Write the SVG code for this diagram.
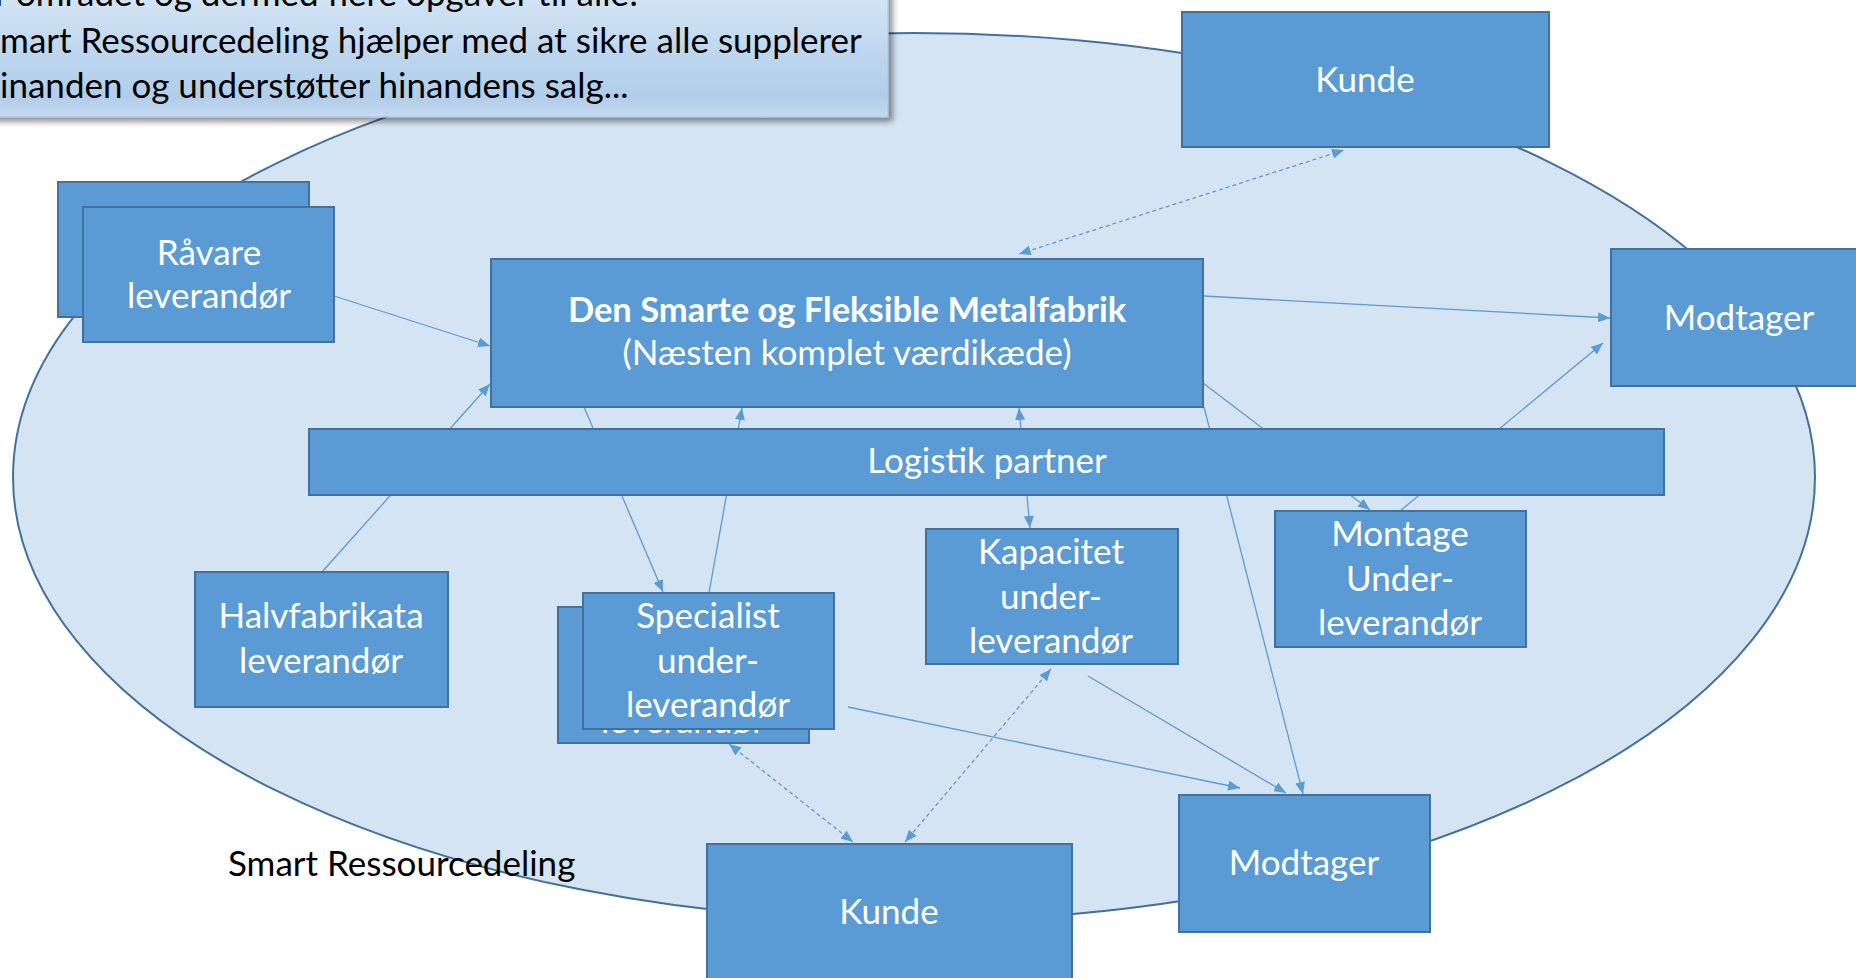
<svg xmlns="http://www.w3.org/2000/svg" width="1856" height="978" viewBox="0 0 1856 978">
<style>
.box{fill:#5B9BD5;stroke:#41719C;stroke-width:2}
.t{font-family:Lato,"Open Sans",sans-serif;font-size:35px;fill:#FFFFFF;text-anchor:middle}
.tb{font-weight:bold;font-size:34.5px}
.k{font-family:Lato,"Open Sans",sans-serif;fill:#000000}
.c{fill:none;stroke:#5B9BD5;stroke-width:1.3}
.d{stroke-dasharray:4 3}
</style>
<defs>
<marker id="ah" markerUnits="userSpaceOnUse" markerWidth="12" markerHeight="10" refX="12" refY="5" orient="auto-start-reverse">
<path d="M0,0 L12,5 L0,10 z" fill="#5B9BD5"/>
</marker>
<linearGradient id="cg" x1="0" y1="0" x2="0" y2="1">
<stop offset="0" stop-color="#DAE8F6"/>
<stop offset="0.55" stop-color="#BDD6EE"/>
<stop offset="0.85" stop-color="#B1CDE9"/>
<stop offset="1" stop-color="#C4DAF0"/>
</linearGradient>
<filter id="sh" x="-10%" y="-10%" width="130%" height="140%">
<feDropShadow dx="4" dy="4" stdDeviation="3" flood-color="#000000" flood-opacity="0.45"/>
</filter>
</defs>

<g id="smart-ressourcedeling">
<ellipse cx="914" cy="477" rx="901" ry="444" fill="#D5E4F3" stroke="#41719C" stroke-width="2"/>
<text class="k" x="228" y="876" font-size="35">Smart Ressourcedeling</text>
</g>

<g id="callout">
<rect x="-20" y="-20" width="908" height="137" fill="url(#cg)" stroke="#A8C5E5" stroke-width="1" filter="url(#sh)"/>
<text class="k" font-size="35">
<tspan x="-5" y="6">r området og dermed flere opgaver til alle!</tspan>
<tspan x="-18.5" y="53">Smart Ressourcedeling hjælper med at sikre alle supplerer</tspan>
<tspan x="-19.5" y="98">hinanden og understøtter hinandens salg...</tspan>
</text>
</g>

<g id="connectors">
<line class="c" x1="334" y1="296" x2="490" y2="346" marker-end="url(#ah)"/>
<line class="c" x1="322" y1="572" x2="490" y2="384" marker-end="url(#ah)"/>
<line class="c" x1="584" y1="407" x2="663" y2="592" marker-end="url(#ah)"/>
<line class="c" x1="709" y1="593" x2="742" y2="408" marker-end="url(#ah)"/>
<line class="c" x1="1030" y1="528" x2="1019" y2="408" marker-start="url(#ah)" marker-end="url(#ah)"/>
<line class="c" x1="1203" y1="383" x2="1370" y2="510" marker-end="url(#ah)"/>
<line class="c" x1="1204" y1="407" x2="1303" y2="794" marker-end="url(#ah)"/>
<line class="c" x1="1203" y1="296" x2="1610" y2="318" marker-end="url(#ah)"/>
<line class="c" x1="1400" y1="511" x2="1603" y2="343" marker-end="url(#ah)"/>
<line class="c d" x1="1019" y1="254" x2="1344" y2="150" marker-start="url(#ah)" marker-end="url(#ah)"/>
<line class="c" x1="848" y1="707" x2="1240" y2="788" marker-end="url(#ah)"/>
<line class="c" x1="1088" y1="676" x2="1286" y2="793" marker-end="url(#ah)"/>
<line class="c d" x1="729" y1="744" x2="853" y2="842" marker-start="url(#ah)" marker-end="url(#ah)"/>
<line class="c d" x1="1051" y1="669" x2="905" y2="842" marker-start="url(#ah)" marker-end="url(#ah)"/>
</g>

<g id="kunde-top">
<rect class="box" x="1182" y="12" width="367" height="135"/>
<text class="t" x="1365" y="92">Kunde</text>
</g>

<g id="modtager-right">
<rect class="box" x="1611" y="249" width="256" height="137"/>
<text class="t" x="1739" y="330">Modtager</text>
</g>

<g id="raavare">
<rect class="box" x="58" y="182" width="251" height="135"/>
<rect class="box" x="83" y="207" width="251" height="135"/>
<text class="t"><tspan x="209" y="265">Råvare</tspan><tspan x="209" y="308">leverandør</tspan></text>
</g>

<g id="metalfabrik">
<rect class="box" x="491" y="259" width="712" height="148"/>
<text class="t"><tspan class="tb" x="847" y="322">Den Smarte og Fleksible Metalfabrik</tspan><tspan x="847" y="365">(Næsten komplet værdikæde)</tspan></text>
</g>

<g id="logistik">
<rect class="box" x="309" y="429" width="1355" height="66"/>
<text class="t" x="987" y="473">Logistik partner</text>
</g>

<g id="halvfabrikata">
<rect class="box" x="195" y="572" width="253" height="135"/>
<text class="t"><tspan x="321" y="628">Halvfabrikata</tspan><tspan x="321" y="673">leverandør</tspan></text>
</g>

<g id="specialist">
<rect class="box" x="558" y="607" width="251" height="136"/>
<text class="t" x="683" y="733">leverandør</text>
<rect class="box" x="583" y="593" width="251" height="136"/>
<text class="t"><tspan x="708" y="628">Specialist</tspan><tspan x="708" y="673">under-</tspan><tspan x="708" y="717">leverandør</tspan></text>
</g>

<g id="kapacitet">
<rect class="box" x="926" y="529" width="252" height="135"/>
<text class="t"><tspan x="1051" y="564">Kapacitet</tspan><tspan x="1051" y="609">under-</tspan><tspan x="1051" y="653">leverandør</tspan></text>
</g>

<g id="montage">
<rect class="box" x="1275" y="511" width="251" height="136"/>
<text class="t"><tspan x="1400" y="546">Montage</tspan><tspan x="1400" y="591">Under-</tspan><tspan x="1400" y="635">leverandør</tspan></text>
</g>

<g id="modtager-bottom">
<rect class="box" x="1179" y="795" width="251" height="137"/>
<text class="t" x="1304" y="875">Modtager</text>
</g>

<g id="kunde-bottom">
<rect class="box" x="707" y="844" width="365" height="140"/>
<text class="t" x="889" y="924">Kunde</text>
</g>
</svg>
